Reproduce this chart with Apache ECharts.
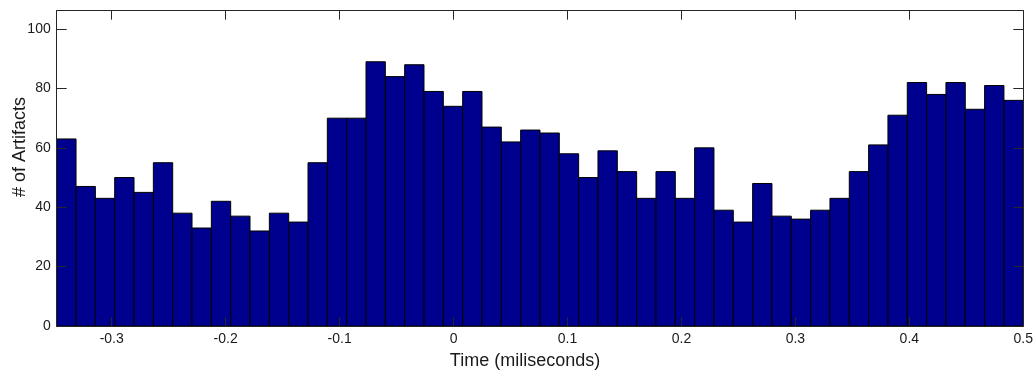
<!DOCTYPE html>
<html>
<head>
<meta charset="utf-8">
<script src="https://cdn.jsdelivr.net/npm/echarts@6/dist/echarts.min.js"></script>
<style>
html,body{margin:0;padding:0;background:#fff;}
#chart{width:1036px;height:377px;}
</style>
</head>
<body>
<div id="chart"></div>
<script>
// Histogram bin range (time, ms)
const binStart = -0.3483;
const binEnd = 0.5;
// Counts per bin (50 bins)
const counts = [63,47,43,50,45,55,38,33,42,37,32,38,35,55,70,70,89,84,88,79,74,79,67,62,66,65,58,50,59,52,43,52,43,60,39,35,48,37,36,39,43,52,61,71,82,78,82,73,81,76];
const xTicks = [-0.3,-0.2,-0.1,0,0.1,0.2,0.3,0.4,0.5];
const yTicks = [0,20,40,60,80,100];
const yMax = 106.2;
const xTitle = 'Time (miliseconds)';
const yTitle = '# of Artifacts';

const binWidth = (binEnd - binStart) / counts.length;
const data = counts.map((c, i) => [binStart + i * binWidth, binStart + (i + 1) * binWidth, c]);

const axisColor = '#262626';
const font = '"Liberation Sans", Arial, sans-serif';

const chart = echarts.init(document.getElementById('chart'));
chart.setOption({
  animation: false,
  backgroundColor: '#ffffff',
  grid: {left: 56.7, right: 9.3, top: 10.7, bottom: 51, containLabel: false},
  xAxis: [{
    type: 'value', min: binStart, max: binEnd, position: 'bottom', z: 5,
    axisLine: {show: true, onZero: false, lineStyle: {color: axisColor, width: 1}},
    axisTick: {show: true, inside: true, length: 9, customValues: xTicks, lineStyle: {color: axisColor}},
    axisLabel: {show: true, customValues: xTicks, color: '#1a1a1a', fontSize: 14, fontFamily: font, margin: 6,
      formatter: v => String(Math.round(v * 10) / 10)},
    splitLine: {show: false}
  }, {
    type: 'value', min: binStart, max: binEnd, position: 'top', z: 5,
    axisLine: {show: true, onZero: false, lineStyle: {color: axisColor, width: 1}},
    axisTick: {show: true, inside: true, length: 9, customValues: xTicks, lineStyle: {color: axisColor}},
    axisLabel: {show: false},
    splitLine: {show: false}
  }],
  yAxis: [{
    type: 'value', min: 0, max: yMax, position: 'left', z: 5,
    axisLine: {show: true, onZero: false, lineStyle: {color: axisColor, width: 1}},
    axisTick: {show: true, inside: true, length: 10, customValues: yTicks, lineStyle: {color: axisColor}},
    axisLabel: {show: true, customValues: yTicks, color: '#1a1a1a', fontSize: 14, fontFamily: font, margin: 6},
    splitLine: {show: false}
  }, {
    type: 'value', min: 0, max: yMax, position: 'right', z: 5,
    axisLine: {show: true, onZero: false, lineStyle: {color: axisColor, width: 1}},
    axisTick: {show: true, inside: true, length: 10, customValues: yTicks, lineStyle: {color: axisColor}},
    axisLabel: {show: false},
    splitLine: {show: false}
  }],
  graphic: [
    {type: 'text', position: [525, 361], style: {text: xTitle, fill: '#1a1a1a', font: '18px ' + font, align: 'center', verticalAlign: 'middle'}},
    {type: 'text', rotation: Math.PI / 2, position: [20, 147], style: {text: yTitle, fill: '#1a1a1a', font: '18px ' + font, align: 'center', verticalAlign: 'middle'}}
  ],
  series: [{
    type: 'custom',
    xAxisIndex: 0, yAxisIndex: 0,
    data: data,
    encode: {x: [0, 1], y: 2},
    renderItem: function (params, api) {
      const p0 = api.coord([api.value(0), 0]);
      const p1 = api.coord([api.value(1), api.value(2)]);
      return {
        type: 'rect',
        shape: {x: p0[0], y: p1[1], width: p1[0] - p0[0], height: p0[1] - p1[1]},
        style: {fill: '#00008F', stroke: '#000000', lineWidth: 1}
      };
    }
  }]
});
</script>
</body>
</html>
